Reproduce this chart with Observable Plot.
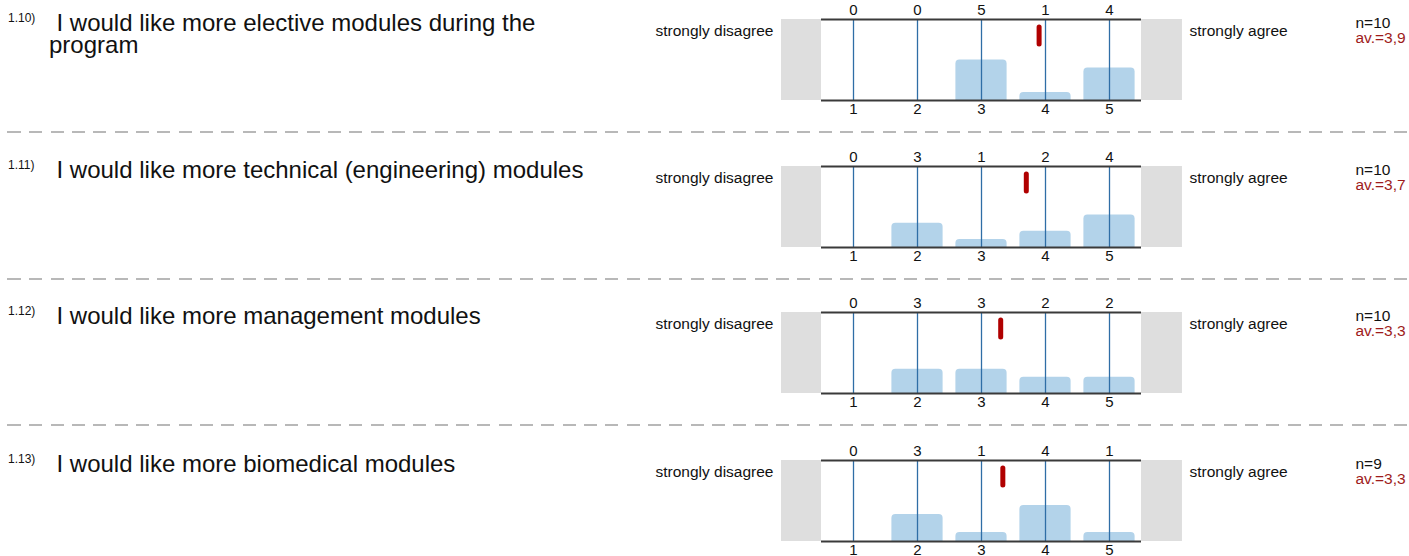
<!DOCTYPE html>
<html>
<head>
<meta charset="utf-8">
<script src="https://cdn.jsdelivr.net/npm/d3@7"></script>
<script src="https://cdn.jsdelivr.net/npm/@observablehq/plot@0.6"></script>
<style>
  html, body { margin: 0; padding: 0; background: #fff; }
  body { width: 1409px; height: 556px; position: relative; overflow: hidden;
         font-family: "Liberation Sans", Arial, sans-serif; color: #111; }
  .num { position: absolute; left: 8px; font-size: 12px; line-height: 12px; white-space: nowrap; }
  .q { position: absolute; left: 49px; width: 545px; font-size: 24px; line-height: 22px; text-indent: 7.5px; }
  .chart { position: absolute; left: 0; }
  .sep { position: absolute; left: 0; width: 1409px; height: 2px;
         background: repeating-linear-gradient(to right, #b8b8b8 0 13px, transparent 13px 21.33px);
         background-position-x: 8px; }
</style>
</head>
<body>
<script>
// ---- data ----
const ids = ["1.10)", "1.11)", "1.12)", "1.13)"];
const questions = [
  "I would like more elective modules during the program",
  "I would like more technical (engineering) modules",
  "I would like more management modules",
  "I would like more biomedical modules"
];
const scaleLabels = [1, 2, 3, 4, 5];
const counts = [
  [0, 0, 5, 1, 4],
  [0, 3, 1, 2, 4],
  [0, 3, 3, 2, 2],
  [0, 3, 1, 4, 1]
];
const nValues = [10, 10, 10, 9];
const averages = [3.9, 3.7, 3.3, 3.3];
const leftLabel = "strongly disagree";
const rightLabel = "strongly agree";

// ---- layout ----
const rowTops = [0, 147, 293, 441];

function rowChart(i) {
  const c = counts[i], n = nValues[i];
  const bars = scaleLabels.map((k, j) => ({k, count: c[j], pct: c[j] / n * 100}));
  const mean = d3.sum(bars, d => d.k * d.count) / n;
  return Plot.plot({
    width: 1409, height: 130,
    marginLeft: 821, marginRight: 268, marginTop: 19, marginBottom: 30,
    x: {domain: [0.5, 5.5], axis: null},
    y: {domain: [0, 100], axis: null},
    style: {fontFamily: '"Liberation Sans", Arial, sans-serif', fontSize: "15px",
            color: "#111", background: "transparent", overflow: "visible"},
    marks: [
      Plot.rect([0], {x1: -0.125, x2: 0.5, y1: 0, y2: 100, fill: "#dedede"}),
      Plot.rect([0], {x1: 5.5, x2: 6.14, y1: 0, y2: 100, fill: "#dedede"}),
      Plot.rect(bars, {x1: d => d.k - 0.4, x2: d => d.k + 0.4, y1: -8, y2: "pct",
                       fill: "#b3d3ea", rx: 4, clip: "frame"}),
      Plot.ruleX(scaleLabels, {x: d => d, y1: 0, y2: 100, stroke: "#2f6ea6", strokeWidth: 1.3}),
      Plot.ruleY([0, 100], {y: d => d, x1: 0.5, x2: 5.5, stroke: "#3a3a3a", strokeWidth: 2}),
      Plot.ruleX([mean], {x: d => d, y1: 69, y2: 90, stroke: "#b00000", strokeWidth: 5, strokeLinecap: "round"}),
      Plot.text(bars, {x: "k", y: 100, text: d => String(d.count), dy: -9, fontSize: 15}),
      Plot.text(scaleLabels, {x: d => d, y: 0, text: d => String(d), dy: 9, fontSize: 15}),
      Plot.text([leftLabel], {frameAnchor: "top-left", lineAnchor: "middle", text: d => d, dx: -48, dy: 12, textAnchor: "end", fontSize: 15.5}),
      Plot.text([rightLabel], {frameAnchor: "top-right", lineAnchor: "middle", text: d => d, dx: 48, dy: 12, textAnchor: "start", fontSize: 15.5}),
      Plot.text([n], {frameAnchor: "top-right", lineAnchor: "middle", text: d => `n=${d}`, dx: 214, dy: 4, textAnchor: "start", fontSize: 15.5}),
      Plot.text([averages[i]], {frameAnchor: "top-right", lineAnchor: "middle", text: d => `av.=${d.toFixed(1).replace(".", ",")}`,
                                dx: 214, dy: 18.5, textAnchor: "start", fontSize: 15.5, fill: "#9e1b1b"})
    ]
  });
}

questions.forEach((q, i) => {
  const top = rowTops[i];
  const num = document.createElement("div");
  num.className = "num";
  num.style.top = (top + 12) + "px";
  num.textContent = ids[i];
  document.body.appendChild(num);

  const qd = document.createElement("div");
  qd.className = "q";
  qd.style.top = (top + 11.5) + "px";
  qd.textContent = q;
  document.body.appendChild(qd);

  const wrap = document.createElement("div");
  wrap.className = "chart";
  wrap.style.top = top + "px";
  wrap.appendChild(rowChart(i));
  document.body.appendChild(wrap);

  if (i < questions.length - 1) {
    const sep = document.createElement("div");
    sep.className = "sep";
    sep.style.top = (top + 131) + "px";
    document.body.appendChild(sep);
  }
});
</script>
</body>
</html>
